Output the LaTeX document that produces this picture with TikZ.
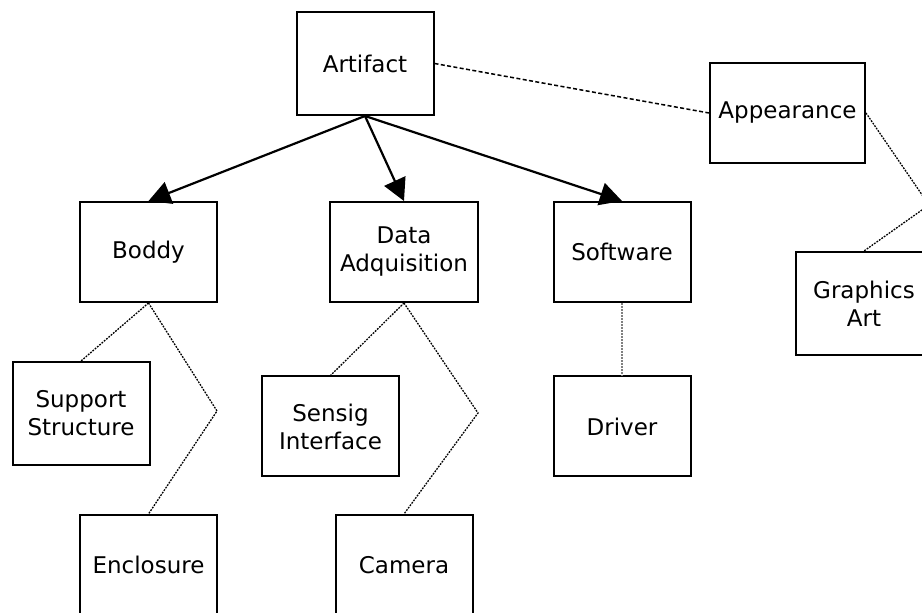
\documentclass[tikz,border=0pt]{standalone}
\usepackage{fontspec}
\setmainfont{DejaVu Sans}
\usetikzlibrary{arrows.meta}

\begin{document}
\begin{tikzpicture}[x=0.5pt,y=-0.5pt,
	every node/.style={font=\fontsize{11.5}{14}\selectfont},
	blk/.style={draw,line width=1pt,minimum width=68.5pt,minimum height=50pt,align=center,inner sep=0pt},
	arr/.style={-{Triangle[length=11pt,width=11.5pt]},line width=1.1pt},
	dsh/.style={dash pattern=on 2pt off 1.2pt,line width=0.75pt},
	dtt/.style={dash pattern=on 0.9pt off 0.6pt,line width=0.65pt}]
	\clip (0,0) rectangle (922,613);
	
	\node[blk,minimum height=51.5pt] (art) at (365,63.5) {Artifact};
	\node[blk,minimum width=77.5pt] (app) at (787.5,113) {Appearance};
	
	\node[blk] (bod) at (148.5,252) {Boddy};
	\node[blk,minimum width=74pt] (daq) at (404,252) {Data\\Adquisition};
	\node[blk] (sw) at (622,252) {Software};
	\node[blk,minimum height=51.5pt] (gfx) at (864,303.5) {Graphics\\Art};
	
	\node[blk,minimum height=51.5pt] (sup) at (81,413.5) {Support\\Structure};
	\node[blk] (sen) at (330.5,426.5) {Sensig\\Interface};
	\node[blk] (drv) at (622,426.5) {Driver};
	\node[blk] (enc) at (148.5,565) {Enclosure};
	\node[blk] (cam) at (404,565) {Camera};
	
	% bends of the dotted lines
	\coordinate (kb) at (217,411);
	\coordinate (kd) at (478,413);
	\coordinate (ka) at (929,205);
	
	\draw[arr] (art.south) -- (bod.north);
	\draw[arr] (art.south) -- (daq.north);
	\draw[arr] (art.south) -- (sw.north);
	\draw[dsh] (art.east) -- (app.west);
	
	\draw[dtt] (bod.south) -- (sup.north);
	\draw[dtt] (bod.south) -- (kb) -- (enc.north);
	\draw[dtt] (daq.south) -- (sen.north);
	\draw[dtt] (daq.south) -- (kd) -- (cam.north);
	\draw[dtt,gray] (sw.south) -- (drv.north);
	\draw[dtt] (app.east) -- (ka) -- (gfx.north);
\end{tikzpicture}
\end{document}
